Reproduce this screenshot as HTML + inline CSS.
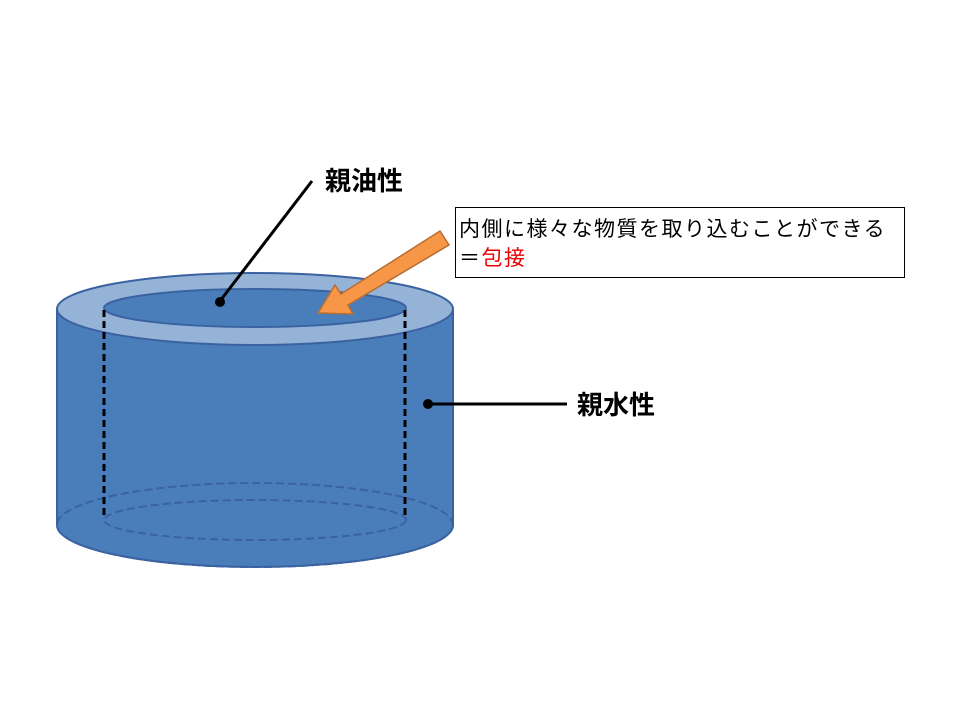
<!DOCTYPE html>
<html><head><meta charset="utf-8"><style>
body{margin:0;background:#fff;}
</style></head><body>
<svg width="960" height="720" xmlns="http://www.w3.org/2000/svg" font-family="'Liberation Sans','Noto Sans CJK JP',sans-serif">
<rect width="960" height="720" fill="#fff"/>
<path d="M57,309 L57,525 A198,42 0 0 0 453,525 L453,309 Z" fill="#4a7ebb"/>
<ellipse cx="255" cy="525" rx="198" ry="42" fill="#4a7ebb" stroke="#3a62a0" stroke-width="2" stroke-dasharray="8,4"/>
<path d="M57,525 A198,42 0 0 0 453,525" fill="none" stroke="#3a62a0" stroke-width="2"/>
<line x1="57" y1="309" x2="57" y2="525" stroke="#3a62a0" stroke-width="2"/>
<line x1="453" y1="309" x2="453" y2="525" stroke="#3a62a0" stroke-width="2"/>
<ellipse cx="255" cy="520" rx="151" ry="20" fill="none" stroke="#3a62a0" stroke-width="2" stroke-dasharray="8,4"/>
<ellipse cx="255" cy="309" rx="198" ry="36" fill="#95b3d7" stroke="#3a62a0" stroke-width="2"/>
<ellipse cx="255" cy="308" rx="151" ry="19" fill="#4a7ebb" stroke="#3a62a0" stroke-width="2"/>
<line x1="104" y1="310" x2="104" y2="518" stroke="#000" stroke-width="3" stroke-dasharray="7,4"/>
<line x1="405" y1="310" x2="405" y2="518" stroke="#000" stroke-width="3" stroke-dasharray="7,4"/>
<polygon points="440,231 449,245 348,305 353,314 318,313 335,285 341,294" fill="#f79646" stroke="#b66d31" stroke-width="1.5"/>
<line x1="312" y1="181" x2="220" y2="301" stroke="#000" stroke-width="3"/>
<circle cx="220" cy="302" r="5" fill="#000"/>
<text x="325" y="190" font-size="26" font-weight="bold">親油性</text>
<line x1="428" y1="404" x2="567" y2="404" stroke="#000" stroke-width="3"/>
<circle cx="428" cy="404" r="5" fill="#000"/>
<text x="577" y="414" font-size="26" font-weight="bold">親水性</text>
<rect x="455.5" y="207.5" width="449" height="70" fill="#fff" stroke="#000" stroke-width="1"/>
<text x="459" y="236" font-size="21" letter-spacing="1.5">内側に様々な物質を取り込むことができる</text>
<text x="459" y="265" font-size="21" letter-spacing="1.5">＝<tspan fill="#e00">包接</tspan></text>
</svg>
</body></html>
